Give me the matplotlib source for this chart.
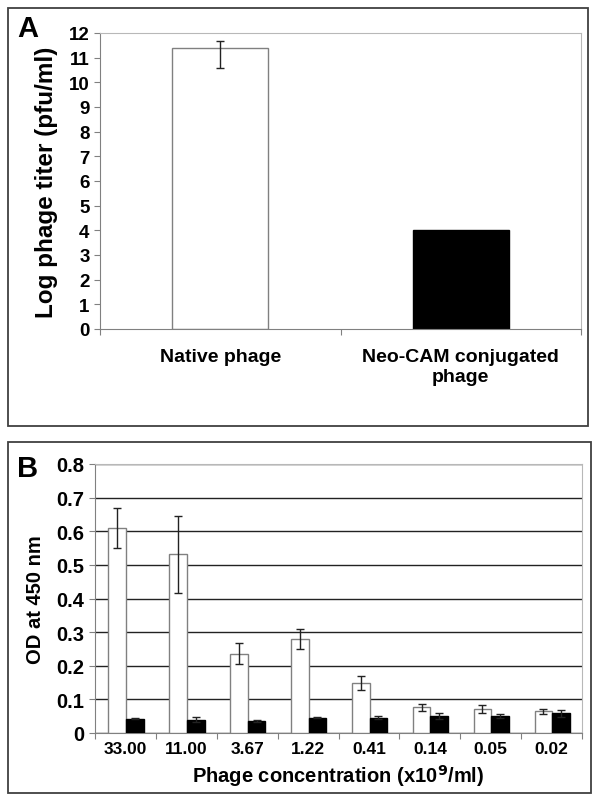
import matplotlib
matplotlib.use("Agg")
import matplotlib.pyplot as plt
from matplotlib.patches import Rectangle
import numpy as np

plt.rcParams['font.family'] = ['Liberation Sans', 'DejaVu Sans']
plt.rcParams['font.weight'] = 'bold'

# Panel A data
fagos = ["Native phage", "Neo-CAM conjugated\nphage"]
titulo_log = [11.4, 4.0]
err_bajo_a = [0.82, 0.0]
err_alto_a = [0.28, 0.0]

# Panel B data
concentraciones = ["33.00", "11.00", "3.67", "1.22", "0.41", "0.14", "0.05", "0.02"]
od_nativo = [0.609, 0.531, 0.236, 0.279, 0.150, 0.076, 0.071, 0.064]
err_nativo = [0.059, 0.115, 0.032, 0.029, 0.021, 0.010, 0.012, 0.007]
od_conjugado = [0.043, 0.040, 0.036, 0.046, 0.046, 0.050, 0.050, 0.059]
err_conjugado = [0.002, 0.007, 0.002, 0.002, 0.004, 0.009, 0.006, 0.010]

gris = '#808080'
gris_claro = '#b8b8b8'

fig = plt.figure(figsize=(6, 8.04), dpi=100)

# Marcos de los paneles
for (y0, y1, x1) in [(9, 427, 588), (443, 794, 591)]:
    fig.patches.append(Rectangle((8 / 600, 1 - y1 / 804), (x1 - 8) / 600, (y1 - y0) / 804,
                                 transform=fig.transFigure, fill=False,
                                 edgecolor='#404040', linewidth=1.3))


def estilo_ejes(ax, n):
    ax.spines['left'].set_color(gris)
    ax.spines['bottom'].set_color(gris)
    ax.spines['top'].set_color(gris_claro)
    ax.spines['right'].set_color(gris_claro)
    ax.set_xlim(-0.5, n - 0.5)
    # ticks del eje x entre categorias (como en Excel)
    ax.set_xticks(np.arange(n + 1) - 0.5)
    ax.set_xticklabels([])
    ax.set_xticks(np.arange(n), minor=True)
    ax.tick_params(axis='x', which='major', direction='out', length=4, color=gris)
    ax.tick_params(axis='x', which='minor', length=0)
    ax.tick_params(axis='y', direction='out', length=4, color=gris)


# ---------- Panel A ----------
ax1 = fig.add_axes([100 / 600, 1 - 330 / 804, 481 / 600, 296 / 804])
x = np.arange(len(fagos))
ax1.bar(x, titulo_log, width=0.4, color=['white', 'black'],
        edgecolor=[gris, 'black'], linewidth=1)
ax1.errorbar(x[:1], titulo_log[:1], yerr=[err_bajo_a[:1], err_alto_a[:1]],
             fmt='none', ecolor='#222222', elinewidth=1, capsize=3)
estilo_ejes(ax1, len(fagos))
ax1.set_xticklabels(fagos, minor=True, fontsize=14, fontweight='bold')
ax1.tick_params(axis='x', which='minor', pad=14)
ax1.set_ylim(0, 12)
ax1.set_yticks(range(0, 13))
ax1.tick_params(axis='y', labelsize=13.5)
ax1.set_ylabel('Log phage titer (pfu/ml)', fontsize=17.5, fontweight='bold', labelpad=8)
fig.text(17 / 600, 1 - 37 / 804, 'A', fontsize=21, fontweight='bold')

# ---------- Panel B ----------
ax2 = fig.add_axes([95 / 600, 1 - 734 / 804, 487 / 600, 269 / 804])
x2 = np.arange(len(concentraciones))
ancho = 0.29
ax2.bar(x2 - ancho / 2 + 0.01, od_nativo, width=ancho, color='white',
        edgecolor=gris, linewidth=1, zorder=3)
ax2.bar(x2 + ancho / 2 + 0.01, od_conjugado, width=ancho, color='black',
        edgecolor='black', linewidth=1, zorder=3)
ax2.errorbar(x2 - ancho / 2 + 0.01, od_nativo, yerr=err_nativo, fmt='none',
             ecolor='#222222', elinewidth=1, capsize=3, zorder=4)
ax2.errorbar(x2 + ancho / 2 + 0.01, od_conjugado, yerr=err_conjugado, fmt='none',
             ecolor='#222222', elinewidth=1, capsize=3, zorder=4)
estilo_ejes(ax2, len(concentraciones))
ax2.set_xticklabels(concentraciones, minor=True, fontsize=12.5, fontweight='bold')
ax2.tick_params(axis='x', which='minor', pad=6)
ax2.set_ylim(0, 0.8)
ax2.set_yticks(np.arange(0, 0.81, 0.1))
ax2.set_yticklabels(['0'] + ['%.1f' % v for v in np.arange(0.1, 0.81, 0.1)])
ax2.tick_params(axis='y', labelsize=14.5)
ax2.yaxis.grid(True, color='#222222', linewidth=1, zorder=0)
ax2.set_axisbelow(True)
ax2.set_ylabel('OD at 450 nm', fontsize=14.5, fontweight='bold', labelpad=8)
ax2.set_xlabel('Phage concentration (x10$^{\\mathbf{9}}$/ml)', fontsize=14.5,
               fontweight='bold', labelpad=4)
fig.text(17 / 600, 1 - 477 / 804, 'B', fontsize=21, fontweight='bold')

fig.savefig('out.png', dpi=100)
